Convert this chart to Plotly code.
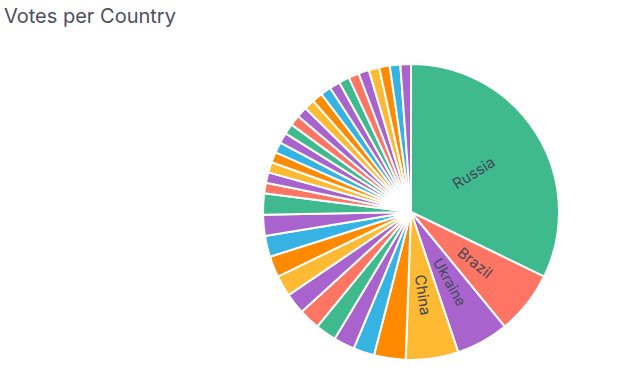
import plotly.graph_objects as go

countries = ["Russia", "Brazil", "Ukraine", "China"] + [f"Country {i}" for i in range(5, 36)]
votes = [28, 6, 5, 5, 3] + [2] * 10 + [1] * 20
shown_labels = ["Russia", "Brazil", "Ukraine", "China"]
palette = ["#3FBA8F", "#FF7563", "#A864CC", "#FFBA33", "#FF8A00", "#36B3E3", "#A864CC"]

W, H = 630, 368
cx, cy, r = 411, 212, 148
r_lab = 108  # radius of the transparent label layer

colors = [palette[i % len(palette)] for i in range(len(countries))]

def dom(rad):
    return dict(x=[(cx - rad) / W, (cx + rad) / W], y=[1 - (cy + rad) / H, 1 - (cy - rad) / H])

fig = go.Figure()
fig.add_trace(go.Pie(
    labels=countries, values=votes, sort=False, direction="clockwise", rotation=0,
    textinfo="none",
    marker=dict(colors=colors, line=dict(color="white", width=2)),
    showlegend=False, domain=dom(r),
))

# transparent label layer: largest slice split so its label is drawn radially
half_w = 4.5
lab_values = [votes[0] / 2 - half_w, 2 * half_w, votes[0] / 2 - half_w] + votes[1:]
lab_text = ["", countries[0], ""] + [c if c in shown_labels else "" for c in countries[1:]]
fig.add_trace(go.Pie(
    values=lab_values, labels=[f"l{i}" for i in range(len(lab_values))],
    text=lab_text, textinfo="text", textposition="inside",
    insidetextorientation="radial", sort=False, direction="clockwise", rotation=0,
    marker=dict(colors=["rgba(0,0,0,0)"] * len(lab_values), line=dict(width=0)),
    textfont=dict(family="Inter, sans-serif", size=15, color="#424854"),
    hoverinfo="skip", showlegend=False, domain=dom(r_lab),
))

fig.update_layout(
    width=W, height=H,
    margin=dict(l=0, r=0, t=0, b=0),
    paper_bgcolor="white", plot_bgcolor="white",
    annotations=[dict(
        text="Votes per Country", x=2 / W, y=1 - 2 / H, xref="paper", yref="paper",
        xanchor="left", yanchor="top", showarrow=False,
        font=dict(family="Inter, sans-serif", size=20, color="#4a5060"),
    )],
)

fig.write_html("out.html", config={"displayModeBar": False},
               post_script="document.body.style.margin='0';")
